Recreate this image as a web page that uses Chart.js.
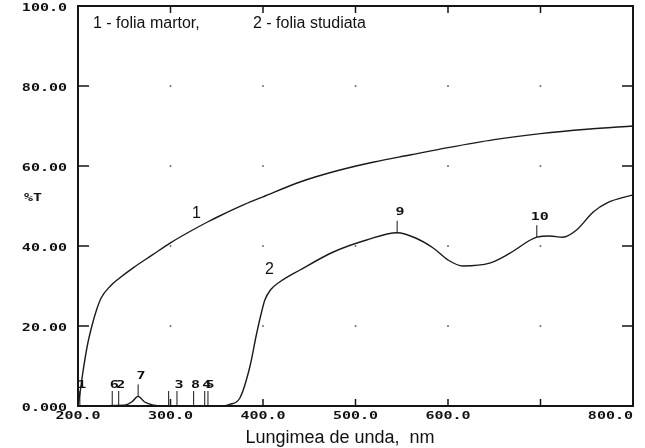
<!DOCTYPE html>
<html>
<head>
<meta charset="utf-8">
<script src="https://cdn.jsdelivr.net/npm/chart.js@4"></script>
<style>
  html, body { margin: 0; padding: 0; background: #fff; }
  #wrap { width: 645px; height: 448px; position: relative; }
</style>
</head>
<body>
<div id="wrap"><canvas id="spectrum"></canvas></div>
<script>
// curve 1 - folia martor
const waveMartor = [200, 202, 205, 210, 215, 220, 225, 235, 245, 260, 280, 300, 320, 340, 353, 380, 400, 440, 480, 520, 560, 600, 650, 700, 750, 800];
const transMartor = [0, 3, 8, 15, 20, 24, 27, 30, 32, 34.6, 37.7, 40.8, 43.5, 46, 47.5, 50.4, 52.3, 56, 58.8, 61, 62.8, 64.6, 66.6, 68.1, 69.2, 70];

// curve 2 - folia studiata
const waveStudiata = [200, 250, 258, 265, 272, 282, 290, 355, 364, 375, 386, 393, 399, 402, 408, 418, 440, 476, 512, 545, 565, 584, 600, 616, 645, 667, 696, 710, 724, 739, 757, 772, 800];
const transStudiata = [0, 0.2, 1, 2.4, 1, 0.2, 0, 0, 0.4, 2, 10, 18, 24, 26.5, 29, 31, 34, 38.5, 41.5, 43.3, 42, 39.5, 36.5, 35, 35.7, 38.2, 42.2, 42.5, 42.2, 44, 48.5, 50.8, 52.8];

// axis ticks
const xTicks = [200, 300, 400, 500, 600, 700, 800];
const xTickLabels = ['200.0', '300.0', '400.0', '500.0', '600.0', '', '800.0'];
const yTicks = [0, 20, 40, 60, 80, 100];
const yTickLabels = ['0.000', '20.00', '40.00', '60.00', '80.00', '100.0'];

// peak markers near the baseline (nm, label)
const baseMarkWave = [202, 237, 244, 298, 307, 325, 337, 340.5];
const baseMarkText = ['1', '6', '2', '', '3', '8', '4', '5'];
// peak markers on curve 2
const peakMarkWave = [265, 545, 696];
const peakMarkValue = [2.4, 43.3, 42.2];
const peakMarkText = ['7', '9', '10'];

const toPoints = (xs, ys) => xs.map((v, i) => ({ x: v, y: ys[i] }));

const printerFont = 'bold 10px "DejaVu Sans Mono"';
function printerText(ctx, txt, px, py, align) {
  const sx = 1.5;
  ctx.save();
  ctx.font = printerFont;
  ctx.textBaseline = 'middle';
  const w = ctx.measureText(txt).width * sx;
  let left = px;
  if (align === 'right') left = px - w;
  else if (align === 'center') left = px - w / 2;
  ctx.translate(left, py);
  ctx.scale(sx, 1);
  ctx.textAlign = 'left';
  ctx.fillText(txt, 0, 0);
  ctx.restore();
}

const framePlugin = {
  id: 'frame',
  afterDraw(chart) {
    const { ctx, chartArea: a, scales: { x, y } } = chart;
    ctx.save();
    ctx.strokeStyle = '#151515';
    ctx.fillStyle = '#151515';

    // frame
    ctx.lineWidth = 2;
    ctx.strokeRect(a.left, a.top, a.right - a.left, a.bottom - a.top);

    // inward ticks
    ctx.lineWidth = 1.5;
    ctx.beginPath();
    xTicks.slice(1, -1).forEach(v => {
      const px = x.getPixelForValue(v);
      ctx.moveTo(px, a.bottom); ctx.lineTo(px, a.bottom - 7);
      ctx.moveTo(px, a.top); ctx.lineTo(px, a.top + 7);
    });
    yTicks.slice(1, -1).forEach(v => {
      const py = y.getPixelForValue(v);
      ctx.moveTo(a.left, py); ctx.lineTo(a.left + 11, py);
      ctx.moveTo(a.right, py); ctx.lineTo(a.right - 11, py);
    });
    ctx.stroke();

    // grid dots
    ctx.fillStyle = '#444';
    xTicks.slice(1, -1).forEach(vx => {
      yTicks.slice(1, -1).forEach(vy => {
        ctx.fillRect(x.getPixelForValue(vx) - 0.75, y.getPixelForValue(vy) - 0.75, 1.5, 1.5);
      });
    });

    // tick labels
    ctx.fillStyle = '#111';
    xTicks.forEach((v, i) => {
      const px = x.getPixelForValue(v);
      const align = i === xTicks.length - 1 ? 'right' : 'center';
      printerText(ctx, xTickLabels[i], px, a.bottom + 10, align);
    });
    yTicks.forEach((v, i) => {
      printerText(ctx, yTickLabels[i], a.left - 11, y.getPixelForValue(v) + 2, 'right');
    });
    printerText(ctx, '%T', 33, y.getPixelForValue(52), 'center');

    // baseline markers
    ctx.lineWidth = 1;
    ctx.beginPath();
    baseMarkWave.forEach(v => {
      const px = x.getPixelForValue(v);
      ctx.moveTo(px, a.bottom); ctx.lineTo(px, a.bottom - 15);
    });
    peakMarkWave.forEach((v, i) => {
      const px = x.getPixelForValue(v);
      const py = y.getPixelForValue(peakMarkValue[i]);
      ctx.moveTo(px, py); ctx.lineTo(px, py - 12);
    });
    ctx.stroke();
    baseMarkWave.forEach((v, i) => {
      if (baseMarkText[i]) printerText(ctx, baseMarkText[i], x.getPixelForValue(v) + 2, a.bottom - 21, 'center');
    });
    peakMarkWave.forEach((v, i) => {
      printerText(ctx, peakMarkText[i], x.getPixelForValue(v) + 3, y.getPixelForValue(peakMarkValue[i]) - 20, 'center');
    });

    // texts
    ctx.font = '16px "Liberation Sans", Arial, sans-serif';
    ctx.textBaseline = 'alphabetic';
    ctx.textAlign = 'left';
    ctx.fillText('1 - folia martor,', a.left + 15, 28);
    ctx.fillText('2 - folia studiata', a.left + 175, 28);
    ctx.fillText('1', 192, 218);
    ctx.fillText('2', 265, 274);
    ctx.font = '18px "Liberation Sans", Arial, sans-serif';
    ctx.textAlign = 'center';
    ctx.fillText('Lungimea de unda,  nm', 340, 443);
    ctx.restore();
  }
};

new Chart(document.getElementById('spectrum').getContext('2d'), {
  type: 'line',
  data: {
    datasets: [
      {
        label: '1 - folia martor',
        data: toPoints(waveMartor, transMartor),
        borderColor: '#1a1a1a',
        borderWidth: 1.4,
        pointRadius: 0,
        cubicInterpolationMode: 'monotone',
        fill: false
      },
      {
        label: '2 - folia studiata',
        data: toPoints(waveStudiata, transStudiata),
        borderColor: '#1a1a1a',
        borderWidth: 1.4,
        pointRadius: 0,
        cubicInterpolationMode: 'monotone',
        fill: false
      }
    ]
  },
  options: {
    responsive: true,
    maintainAspectRatio: false,
    animation: false,
    layout: { padding: { left: 78, right: 12, top: 6, bottom: 42 } },
    plugins: { legend: { display: false }, tooltip: { enabled: false } },
    scales: {
      x: { type: 'linear', min: 200, max: 800, display: false },
      y: { min: 0, max: 100, display: false }
    }
  },
  plugins: [framePlugin]
});
</script>
</body>
</html>
